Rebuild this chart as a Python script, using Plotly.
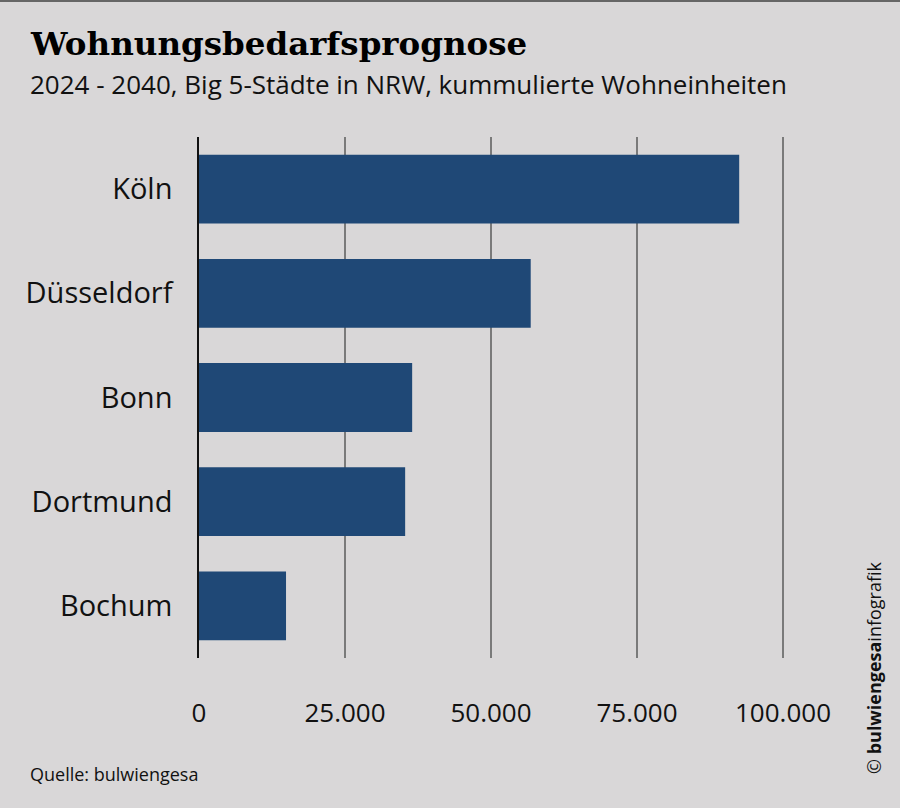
import plotly.graph_objects as go

cities = ["Köln", "Düsseldorf", "Bonn", "Dortmund", "Bochum"]
units = [92500, 56800, 36500, 35300, 14900]
tick_vals = [0, 25000, 50000, 75000, 100000]
tick_text = ["0", "25.000", "50.000", "75.000", "100.000"]

W, H = 900, 808
L, R, T, B = 199, 115, 137, 150
pw, ph = W - L - R, H - T - B
x_max = 100000 * pw / 584  # keep 0..100000 over 584 px


def px(x):
    return (x - L) / pw


def py(y):
    return (H - B - y) / ph


bg = "#d9d7d8"

fig = go.Figure(go.Bar(
    x=units, y=cities, orientation="h",
    marker=dict(color="#1f4876", line=dict(width=0)),
    width=0.66,
))

fig.update_layout(
    width=W, height=H,
    margin=dict(l=L, r=R, t=T, b=B),
    paper_bgcolor=bg, plot_bgcolor=bg,
    showlegend=False,
    font=dict(family="Open Sans", color="#111"),
    xaxis=dict(range=[0, x_max], tickvals=tick_vals, ticktext=tick_text,
               showgrid=True, gridcolor="#7a7a7a", gridwidth=1.5,
               zeroline=False, tickfont=dict(size=26),
               ticks="outside", ticklen=32, tickcolor="rgba(0,0,0,0)"),
    yaxis=dict(autorange="reversed", showline=True, linecolor="#111", linewidth=1.5,
               tickfont=dict(size=29), ticks="outside", ticklen=19,
               tickcolor="rgba(0,0,0,0)", showgrid=False),
)

fig.add_shape(type="line", xref="paper", yref="paper",
              x0=px(0), x1=px(W), y0=py(1), y1=py(1),
              line=dict(color="#666", width=2))

fig.add_annotation(text="<b>Wohnungsbedarfsprognose</b>", xref="paper", yref="paper",
                   x=px(28), y=py(43), xanchor="left", yanchor="middle", showarrow=False,
                   font=dict(family="DejaVu Serif", size=32.5, color="#000"))
fig.add_annotation(text="2024 - 2040, Big 5-Städte in NRW, kummulierte Wohneinheiten",
                   xref="paper", yref="paper",
                   x=px(28), y=py(84), xanchor="left", yanchor="middle", showarrow=False,
                   font=dict(family="Open Sans", size=26, color="#111"))
fig.add_annotation(text="Quelle: bulwiengesa", xref="paper", yref="paper",
                   x=px(28), y=py(774), xanchor="left", yanchor="middle", showarrow=False,
                   font=dict(family="Open Sans", size=18, color="#111"))
fig.add_annotation(text="© <b>bulwiengesa</b>infografik", xref="paper", yref="paper",
                   x=px(874), y=py(668), xanchor="center", yanchor="middle", showarrow=False,
                   textangle=-90, font=dict(family="Open Sans", size=18, color="#111"))

fig.write_html("out.html", config={"displayModeBar": False},
               post_script="document.body.style.margin='0';document.body.style.overflow='hidden';")
